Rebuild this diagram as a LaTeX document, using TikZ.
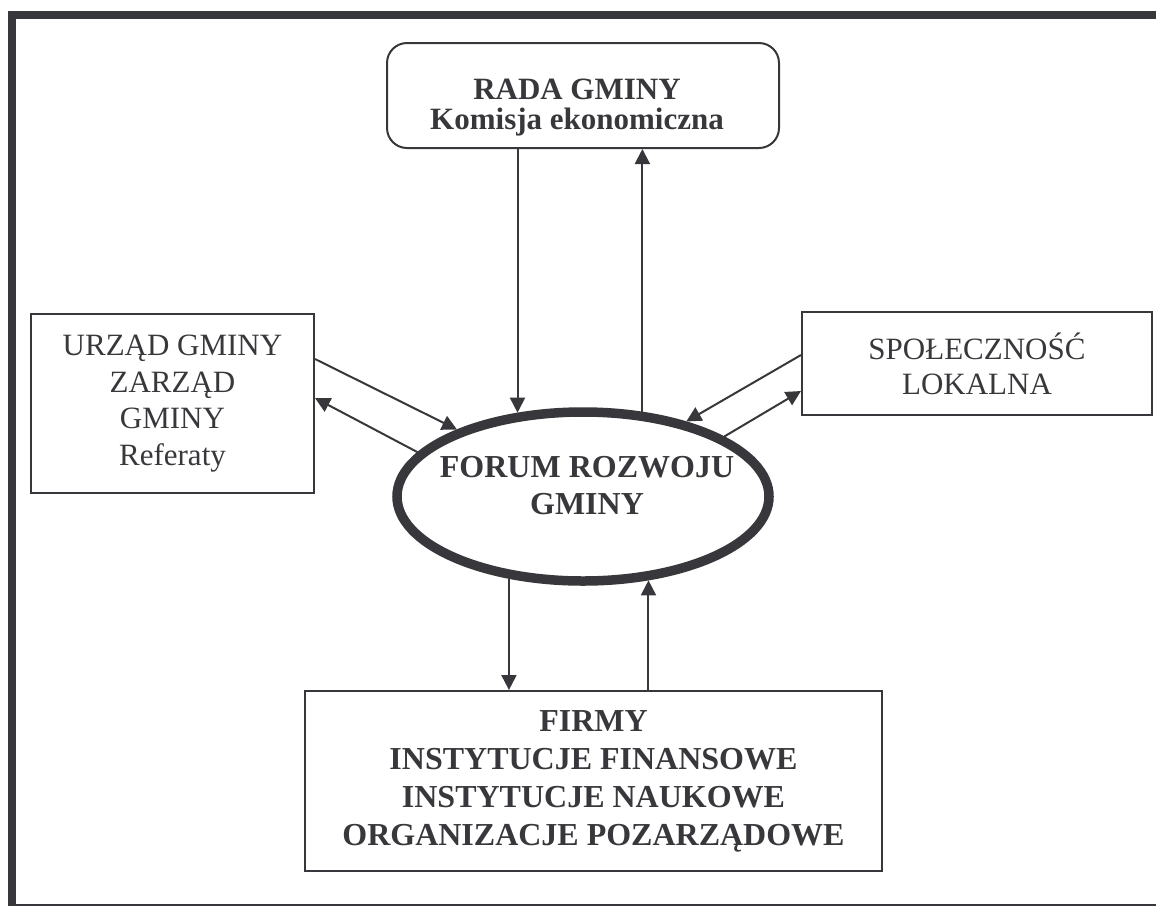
\documentclass[tikz,border=0pt]{standalone}
\usepackage{fontspec}
\setmainfont{Liberation Serif}
\usetikzlibrary{shapes.geometric,arrows.meta}
\definecolor{ink}{RGB}{56,56,60}
\begin{document}
\begin{tikzpicture}[x=1pt,y=-1pt,
  every node/.style={text=ink, draw=ink, inner sep=0pt, align=center},
  plainbox/.style={rectangle, line width=2pt},
  regtext/.style={font={\fontsize{31}{36.5}\selectfont}},
  boldtext/.style={font={\fontsize{32}{38}\selectfont\bfseries}},
  arr/.style={draw=ink, line width=2pt, -{Triangle[length=15pt,width=15pt]}}]
\useasboundingbox (0,0) rectangle (1156,906);

% page frame
\fill[ink] (8,11) rectangle (1156,19);
\fill[ink] (8,11) rectangle (16,906);
\draw[ink, line width=1.5pt] (16,905) -- (1156,905);

% council
\node[plainbox, rounded corners=20pt, minimum width=392pt, minimum height=105pt,
      label={[name=radatext, draw=none, font={\fontsize{31}{30}\selectfont\bfseries}, xshift=-6pt, yshift=-12pt]center:RADA GMINY\\Komisja ekonomiczna}]
      (rada) at (583,95.5) {};

% municipal office
\node[plainbox, regtext, minimum width=283pt, minimum height=179pt]
      (urzad) at (172.5,403.5) {URZĄD GMINY\\ZARZĄD\\GMINY\\Referaty};

% local community
\node[plainbox, font={\fontsize{31}{35}\selectfont}, minimum width=350pt, minimum height=103pt]
      (spol) at (977,363.5) {SPOŁECZNOŚĆ\\LOKALNA};

% development forum
\node[ellipse, line width=9.5pt, minimum width=372pt, minimum height=169pt,
      label={[name=forumtext, draw=none, font={\fontsize{32}{37}\selectfont\bfseries}, xshift=4pt, yshift=11pt]center:FORUM ROZWOJU\\GMINY}]
      (forum) at (583,496.5) {};

% partners
\node[plainbox, boldtext, minimum width=577pt, minimum height=180pt]
      (firmy) at (593.5,781) {FIRMY\\INSTYTUCJE FINANSOWE\\INSTYTUCJE NAUKOWE\\ORGANIZACJE POZARZĄDOWE};

% council <-> forum
\draw[arr] (forum.128.7 |- rada.south) -- (forum.128.7);
\draw[arr] (forum.55.2) -- (forum.55.2 |- rada.south);

% office <-> forum
\draw[arr] ([yshift=44.5pt]urzad.east) -- (forum.152.6);
\draw[arr] (forum.165.4) -- ([yshift=5.5pt]urzad.east);

% community <-> forum
\draw[arr] ([yshift=8.5pt]spol.west) -- (forum.36);
\draw[arr] (forum.23.5) -- ([yshift=-27.5pt]spol.west);

% forum <-> partners
\draw[arr] (forum.-132.4) -- (forum.-132.4 |- firmy.north);
\draw[arr] (forum.-52.7 |- firmy.north) -- (forum.-52.7);
\end{tikzpicture}
\end{document}
